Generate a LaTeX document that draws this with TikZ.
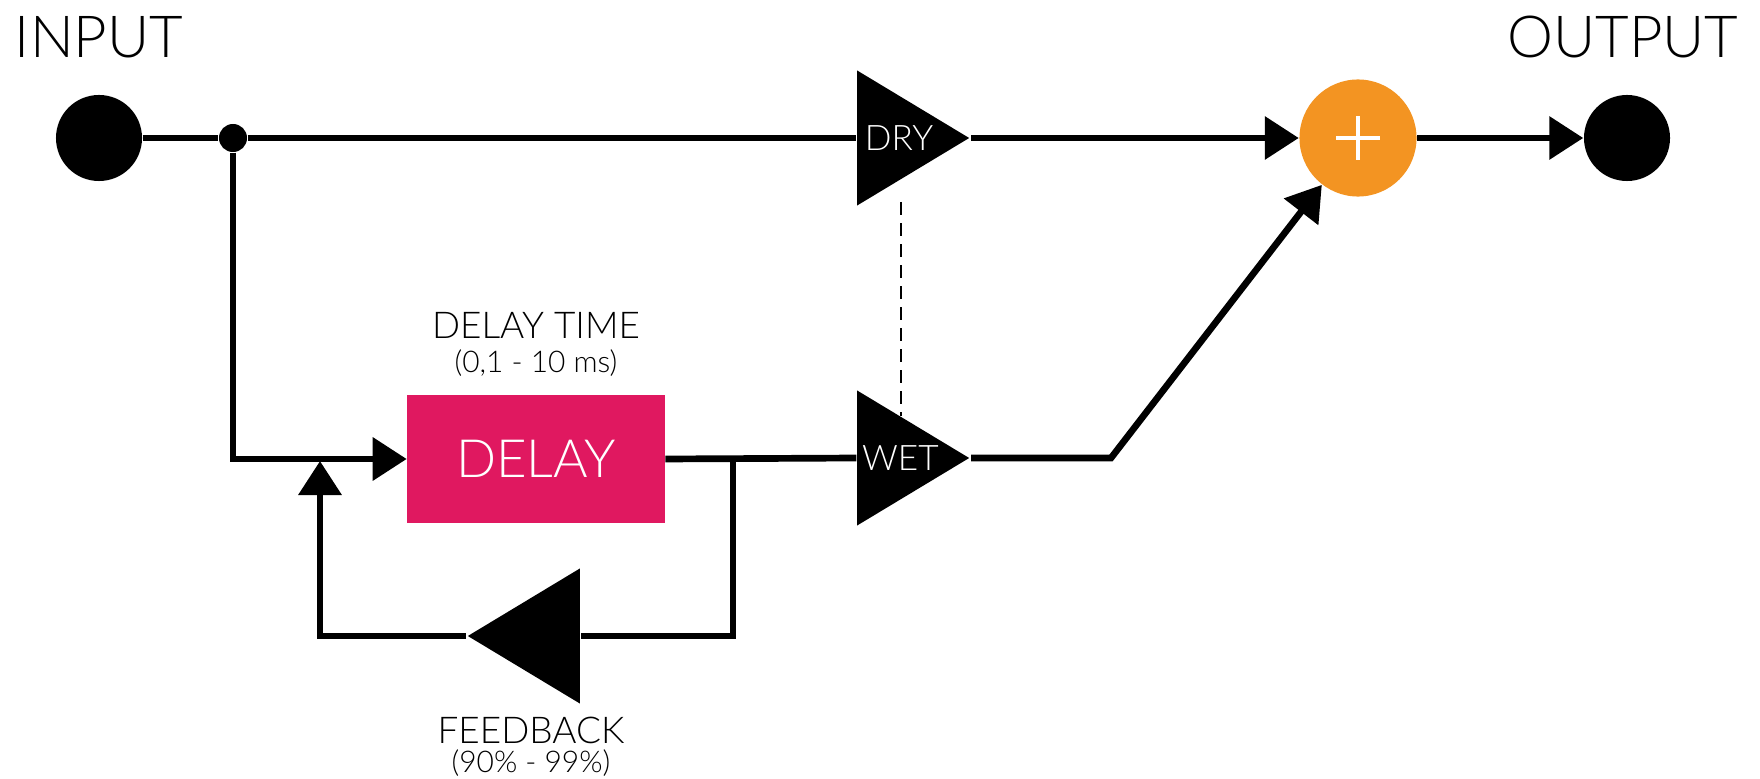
\documentclass[tikz,border=0pt]{standalone}
\usepackage{fontspec}
\setmainfont{Lato}[UprightFont=* Light]
\usepackage{xcolor}
\definecolor{delayPink}{RGB}{224,24,96}
\definecolor{sumOrange}{RGB}{243,148,34}
\usetikzlibrary{shapes.geometric, arrows.meta, positioning, calc}

\begin{document}
\begin{tikzpicture}[x=0.01cm, y=-0.01cm,
  wire/.style={line width=1.9pt, draw=black},
  arr/.style={wire, -{Triangle[length=0.34cm, width=0.42cm]}},
  port/.style={circle, fill=black, inner sep=0pt, minimum size=0.86cm},
  amp/.style={isosceles triangle, isosceles triangle stretches, fill=black,
              inner sep=0pt, minimum width=1.35cm, minimum height=1.12cm,
              text=white, font=\fontsize{10}{12}\selectfont},
  title/.style={font=\fontsize{16.5}{20}\selectfont},
  note/.style={font=\fontsize{10.5}{12}\selectfont},
  small/.style={font=\fontsize{8.5}{10}\selectfont}]

  \useasboundingbox (0,0) rectangle (1760,779);

  % ── Ports ─────────────────────────────────────────────────────────
  \node[title] (inlabel) at (99,37) {INPUT};
  \node[title] (outlabel) at (1623,37) {OUTPUT};
  \node[port] (in) at (99,138) {};
  \node[port] (out) at (1627,138) {};
  \node[circle, fill=black, inner sep=0pt, minimum size=0.28cm] (split) at (233,138) {};

  % ── Gains, delay and sum ──────────────────────────────────────────
  \node[amp, anchor=apex] (dry) at (971,138) {DRY};
  \node[amp, anchor=apex] (wet) at (971,458) {WET};
  \node[amp, shape border rotate=180, anchor=apex] (fb) at (466,636) {};
  \node[rectangle, fill=delayPink, minimum width=2.57cm, minimum height=1.28cm,
        text=white, font=\fontsize{15}{18}\selectfont] (delay) at (536,459) {DELAY};
  \node[circle, fill=sumOrange, inner sep=0pt, minimum size=1.17cm] (sum) at (1358,138) {};
  \draw[white, line width=1.1pt] ($(sum.center)+(-22,0)$) -- ($(sum.center)+(22,0)$)
                                 ($(sum.center)+(0,-22)$) -- ($(sum.center)+(0,22)$);

  % ── Labels ────────────────────────────────────────────────────────
  \node[note] (dtime) at (536,325) {DELAY TIME};
  \node[small] (drange) at (536,363) {(0,1 - 10 ms)};
  \node[note] (fblabel) at (531,730) {FEEDBACK};
  \node[small] (fbrange) at (531,763) {(90\% - 99\%)};

  % ── Connectors ────────────────────────────────────────────────────
  \coordinate (tap) at (733,458);
  \coordinate (merge) at (320,461);
  \coordinate (bend) at (1111,458);
  \coordinate (dashtop) at (901,202);
  \coordinate (dashbot) at (901,416);

  \draw[wire] (in) -- (split) -- (dry.lower side);
  \draw[arr] (dry.apex) -- (sum);
  \draw[arr] (sum) -- (out);
  \draw[arr] (split) |- (delay.west);
  \draw[wire] (delay.east) -- (wet.lower side);
  \draw[wire] (tap) -- (tap |- fb.lower side) -- (fb.lower side);
  \draw[arr] (fb.apex) -| (merge);
  \draw[arr] (wet.apex) -- (bend) -- (sum);
  \draw[dashed, line width=0.7pt, dash pattern=on 0.13cm off 0.08cm] (dashtop) -- (dashbot);

\end{tikzpicture}
\end{document}
